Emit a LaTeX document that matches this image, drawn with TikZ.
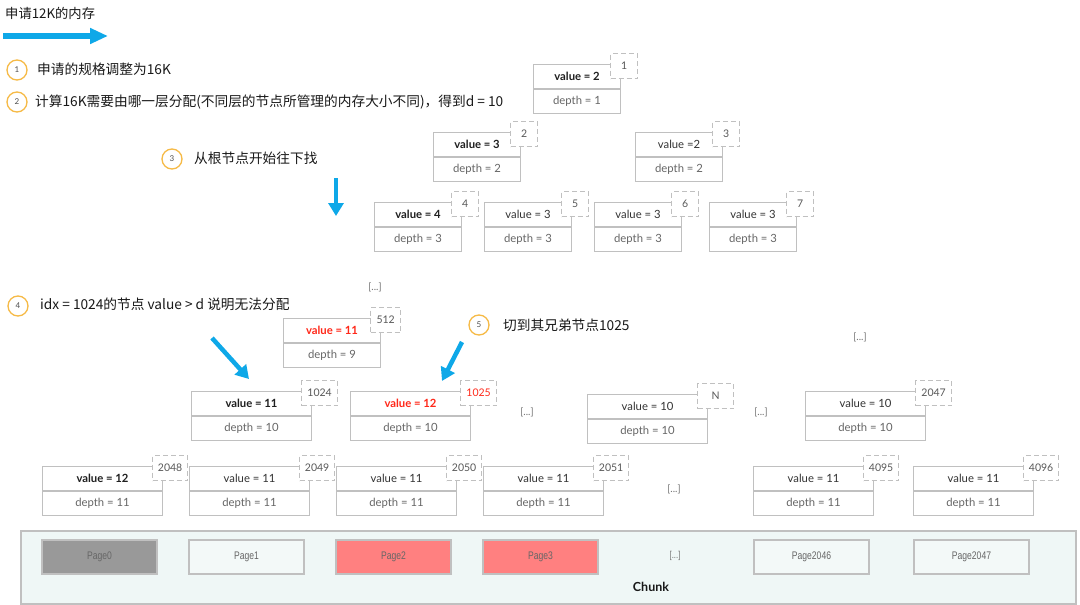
\documentclass[tikz,border=0pt]{standalone}
\usepackage{fontspec}
\setmainfont{Lato}
\newfontfamily\cjk{Noto Sans CJK SC}
\newfontfamily\narrowf[FakeStretch=0.78]{Liberation Sans}
\usetikzlibrary{arrows.meta}
\definecolor{bordergray}{RGB}{192,192,192}
\definecolor{arrowblue}{RGB}{14,168,232}
\definecolor{circorange}{RGB}{246,186,70}
\definecolor{redtext}{RGB}{255,40,25}
\definecolor{chunkfill}{RGB}{239,247,246}
\definecolor{pagefill}{RGB}{243,249,248}
\definecolor{pagegray}{RGB}{153,153,153}
\definecolor{pagered}{RGB}{255,128,128}
\newcommand{\vb}[1]{{\bfseries\color{black!88}#1}}
\newcommand{\vm}[1]{{\color{black!80}#1}}
\newcommand{\vr}[1]{{\bfseries\color{redtext}#1}}
\newcommand{\tnode}[8]{%
  \node[topbox, minimum width=#4pt, anchor=north west] (#1v) at (#2,#3) {#5};
  \node[botbox, minimum width=#4pt, anchor=north] (#1d) at (#1v.south) {#6};
  \node[idxbox, minimum width=#8pt, anchor=north west] (#1i) at ([xshift=-11pt,yshift=11pt]#1v.north east) {#7};}
\begin{document}
\begin{tikzpicture}[x=1pt,y=-1pt,
  topbox/.style={draw=bordergray, line width=1.1pt, fill=white, minimum height=24pt, inner sep=0pt,
    font=\fontsize{11.3}{13}\selectfont},
  botbox/.style={draw=bordergray, line width=1.1pt, fill=white, minimum height=24pt, inner sep=0pt,
    font=\fontsize{11.3}{13}\selectfont, text=black!60},
  idxbox/.style={draw=bordergray, line width=1.1pt, dash pattern=on 5pt off 3pt, fill=white,
    minimum height=25pt, inner sep=0pt, font=\fontsize{10.5}{12}\selectfont, text=black!65},
  stepnum/.style={circle, draw=circorange, line width=1.3pt, minimum size=20pt, inner sep=0pt,
    font=\fontsize{8}{9}\selectfont, text=black!70},
  steptext/.style={anchor=west, inner sep=0pt, font=\cjk\fontsize{13.7}{15}\selectfont, text=black!90},
  dots/.style={inner sep=0pt, font=\fontsize{10}{11}\selectfont, text=black!55},
  bluearrow/.style={draw=arrowblue, line width=4.5pt, -{Triangle[width=15pt,length=13pt]}},
  pagebox/.style={draw=bordergray, line width=1.1pt, minimum width=115pt, minimum height=34pt, inner sep=0pt,
    font=\narrowf\fontsize{11}{12}\selectfont, text=black!60},
  chunkbox/.style={draw=bordergray, line width=1.5pt, fill=chunkfill, inner sep=0pt}
]
\useasboundingbox (0,0) rectangle (1080,605);
\fill[white] (0,0) rectangle (1080,605);

% title and top arrow
\node[anchor=west, inner sep=0pt, font=\cjk\fontsize{13.3}{15}\selectfont, text=black!90] (title) at (5,13) {申请12K的内存};
\coordinate (ta) at (3,36);
\coordinate (tb) at (108,36);
\draw[draw=arrowblue, line width=6pt, -{Triangle[width=15pt,length=18pt]}] (ta) -- (tb);

% steps
\node[stepnum] (s1) at (17,70) {1};
\node[steptext] (t1) at (37,69) {申请的规格调整为16K};
\node[stepnum] (s2) at (17,102) {2};
\node[steptext] (t2) at (35,102) {计算16K需要由哪一层分配(不同层的节点所管理的内存大小不同)，得到d = 10};
\node[stepnum] (s3) at (172,159) {3};
\node[steptext] (t3) at (194,158) {从根节点开始往下找};
\node[stepnum] (s4) at (18,306) {4};
\node[steptext] (t4) at (40,304) {idx = 1024的节点 value > d 说明无法分配};
\node[stepnum] (s5) at (479,325) {5};
\node[steptext] (t5) at (503,325) {切到其兄弟节点1025};

% blue arrows
\coordinate (da) at (336,178);
\coordinate (db) at (336,216);
\draw[bluearrow] (da) -- (db);
\coordinate (la) at (212,338);
\coordinate (lb) at (249,379);
\draw[bluearrow] (la) -- (lb);
\coordinate (ra) at (462,342);
\coordinate (rb) at (442,381);
\draw[bluearrow] (ra) -- (rb);

% tree nodes
\tnode{n1}{533}{64}{87}{\vb{value = 2}}{depth = 1}{1}{27}
\tnode{n2}{433}{132}{87}{\vb{value = 3}}{depth = 2}{2}{27}
\tnode{n3}{635}{132}{87}{\vm{value =2}}{depth = 2}{3}{27}
\tnode{n4}{374}{202}{87}{\vb{value = 4}}{depth = 3}{4}{27}
\tnode{n5}{484}{202}{87}{\vm{value = 3}}{depth = 3}{5}{27}
\tnode{n6}{594}{202}{87}{\vm{value = 3}}{depth = 3}{6}{27}
\tnode{n7}{709}{202}{87}{\vm{value = 3}}{depth = 3}{7}{27}

\node[dots] (dotsA) at (375,287) {[...]};
\tnode{n512}{283}{318}{97}{\vr{value = 11}}{depth = 9}{512}{30}

\tnode{n1024}{191}{391}{120}{\vb{value = 11}}{depth = 10}{1024}{36}
\tnode{n1025}{350}{391}{120}{\vr{value = 12}}{depth = 10}{\color{redtext}1025}{36}
\node[dots] (dotsB) at (527,412) {[...]};
\tnode{nN}{587}{394}{120}{\vm{value = 10}}{depth = 10}{N}{36}
\node[dots] (dotsC) at (761,412) {[...]};
\tnode{n2047}{805}{391}{120}{\vm{value = 10}}{depth = 10}{2047}{36}
\node[dots] (dotsD) at (860,337) {[...]};

\tnode{n2048}{42}{466}{120}{\vb{value = 12}}{depth = 11}{2048}{35}
\tnode{n2049}{189}{466}{120}{\vm{value = 11}}{depth = 11}{2049}{35}
\tnode{n2050}{336}{466}{120}{\vm{value = 11}}{depth = 11}{2050}{35}
\tnode{n2051}{483}{466}{120}{\vm{value = 11}}{depth = 11}{2051}{35}
\node[dots] (dotsE) at (674,489) {[...]};
\tnode{n4095}{753}{466}{120}{\vm{value = 11}}{depth = 11}{4095}{35}
\tnode{n4096}{913}{466}{120}{\vm{value = 11}}{depth = 11}{4096}{35}

% chunk
\node[chunkbox, minimum width=1055pt, minimum height=73pt, anchor=north west] (chunk) at (20,530) {};
\node[pagebox, fill=pagegray] (p0) at (99.5,557) {Page0};
\node[pagebox, fill=pagefill] (p1) at (246.5,557) {Page1};
\node[pagebox, fill=pagered] (p2) at (393.5,557) {Page2};
\node[pagebox, fill=pagered] (p3) at (540.5,557) {Page3};
\node[dots, font=\narrowf\fontsize{10}{11}\selectfont] (dotsF) at (675,556) {[...]};
\node[pagebox, fill=pagefill] (p2046) at (811.5,557) {Page2046};
\node[pagebox, fill=pagefill] (p2047) at (971.5,557) {Page2047};
\node[inner sep=0pt, font=\bfseries\fontsize{12.5}{14}\selectfont, text=black!90] (chunklabel) at (651,587) {Chunk};
\end{tikzpicture}
\end{document}
